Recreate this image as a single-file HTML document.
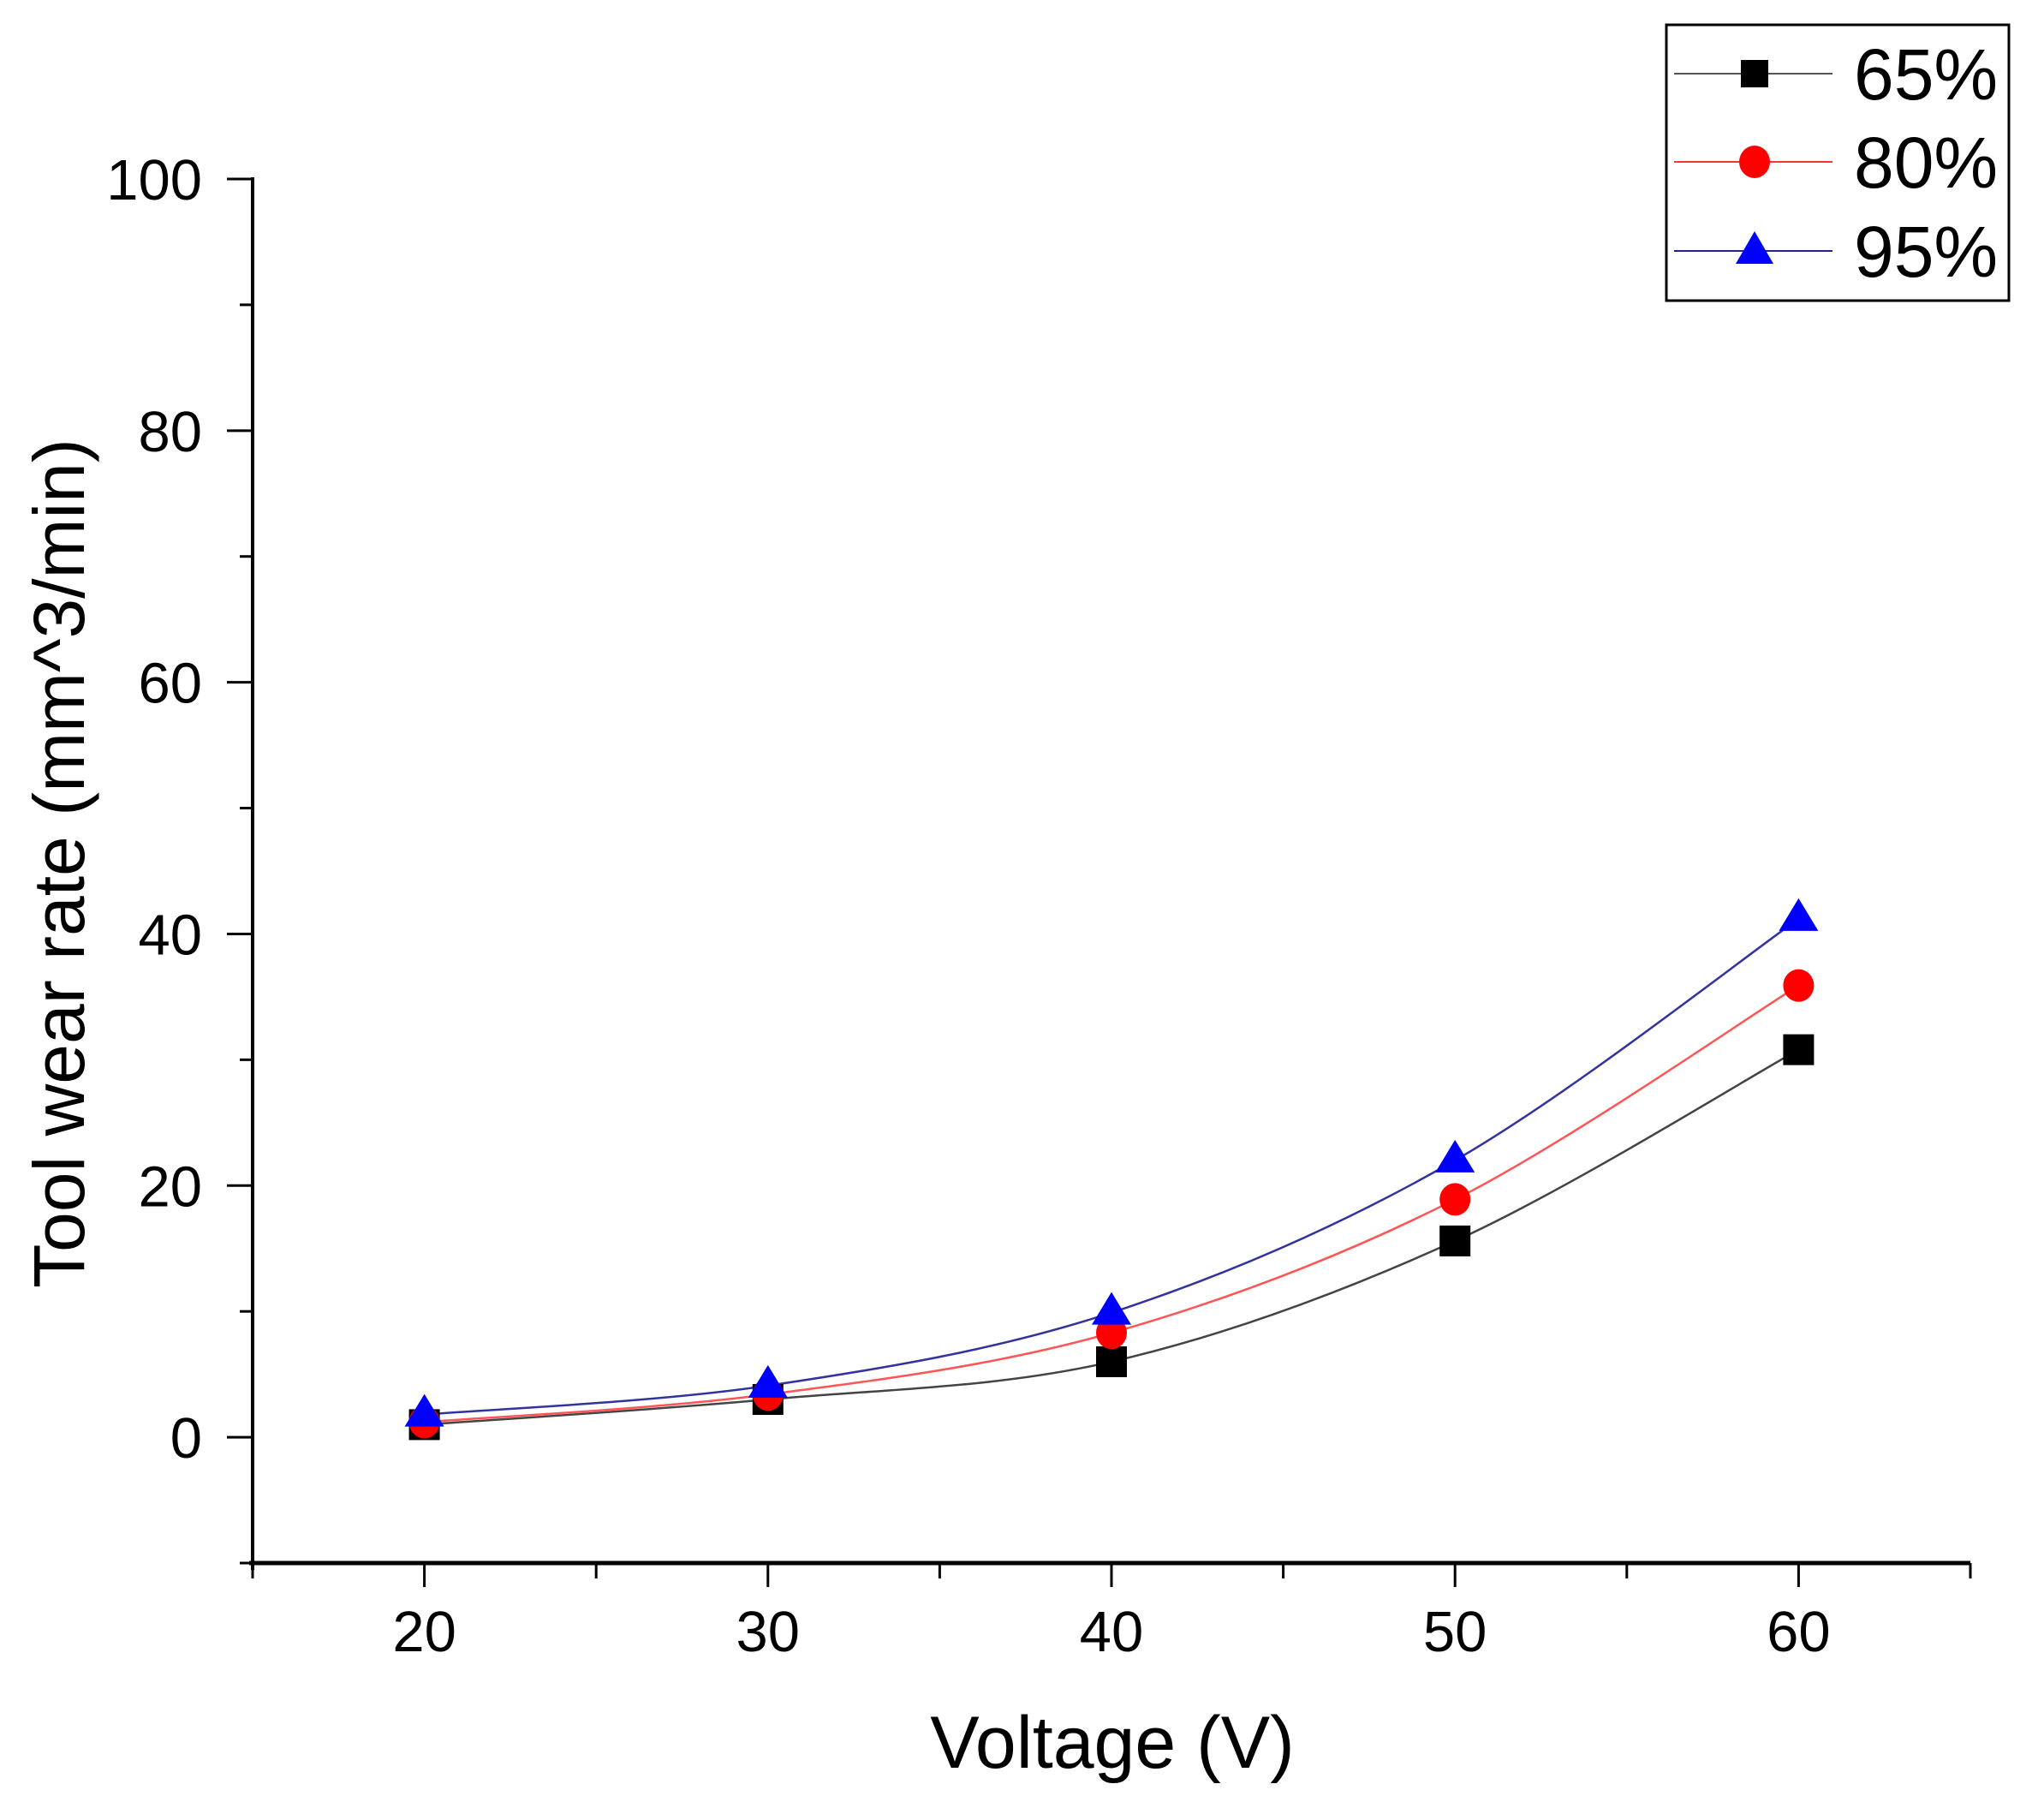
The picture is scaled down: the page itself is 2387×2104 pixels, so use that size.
<!DOCTYPE html>
<html><head><meta charset="utf-8"><style>
html,body{margin:0;padding:0;background:#fff}
svg{display:block}
text{font-family:"Liberation Sans",Arial,sans-serif;fill:#000}
</style></head><body>
<svg id="chart" width="2387" height="2104" viewBox="0 0 2387 2104">
<g id="axes"></g>
<g id="series"></g>
<text x="1299" y="2064" font-size="86" text-anchor="middle">Voltage (V)</text>
<text transform="translate(98,1008) rotate(-90)" font-size="84" text-anchor="middle">Tool wear rate (mm^3/min)</text>
<g>
<rect x="1946" y="29" width="400" height="322" fill="#fff" stroke="#000" stroke-width="3"/>
<g>
<line x1="1955" y1="86" x2="2140" y2="86" stroke="#555" stroke-width="2"/>
<rect x="2033" y="70" width="32" height="32" fill="#000"/>
<text x="2165" y="116" font-size="84">65%</text></g>
<g>
<line x1="1955" y1="189" x2="2140" y2="189" stroke="#f33" stroke-width="2"/>
<ellipse cx="2049" cy="189" rx="18" ry="19" fill="#f00"/>
<text x="2165" y="219" font-size="84">80%</text></g>
<g>
<line x1="1955" y1="293" x2="2140" y2="293" stroke="#22228a" stroke-width="2"/>
<polygon points="2049,270 2071,308 2027,308" fill="#00f"/>
<text x="2165" y="323" font-size="84">95%</text></g>
</g>
</svg>
<script>
const xCategories=[20,30,40,50,60];
const series65=[1.0,3.0,6.0,15.6,30.8];
const series80=[1.2,3.4,8.3,18.9,35.9];
const series95=[1.8,4.1,9.9,22.0,41.2];
const yTicks=[0,20,40,60,80,100];
const xTicks=[20,30,40,50,60];
const NS='http://www.w3.org/2000/svg';
const X0=295,X1=2301,XMIN=15,XMAX=65,YTOP=209,YBOT=1825,YMIN=-10,YMAX=100;
function sx(v){return X0+(v-XMIN)/(XMAX-XMIN)*(X1-X0);}
function sy(v){return YBOT-(v-YMIN)/(YMAX-YMIN)*(YBOT-YTOP);}
function mk(tag,attrs,parent){const e=document.createElementNS(NS,tag);for(const k in attrs)e.setAttribute(k,attrs[k]);parent.appendChild(e);return e;}
const axes=document.getElementById('axes');
const ya=mk('line',{x1:X0,y1:YTOP-2,x2:X0,y2:YBOT+8,stroke:'#000','stroke-width':4},axes);


const xa=mk('line',{x1:X0-4,y1:YBOT,x2:X1,y2:YBOT,stroke:'#000','stroke-width':5},axes);


for(let v=YMIN;v<=YMAX;v+=10){
  const major=yTicks.includes(v);
  mk('line',{x1:X0-(major?30:15),y1:sy(v),x2:X0,y2:sy(v),stroke:'#000','stroke-width':3},axes);
}
yTicks.forEach(v=>{
  const t=mk('text',{x:236,y:sy(v)+24,'font-size':67,'text-anchor':'end'},axes);
  t.textContent=v;
  
  
});
for(let v=XMIN;v<=XMAX;v+=5){
  const major=xTicks.includes(v);
  mk('line',{x1:sx(v),y1:YBOT,x2:sx(v),y2:YBOT+(major?28:18),stroke:'#000','stroke-width':3},axes);
}
xTicks.forEach(v=>{
  const t=mk('text',{x:sx(v),y:1928,'font-size':67,'text-anchor':'middle'},axes);
  t.textContent=v;
  
  
});
function pathFor(vals){
  const p=xCategories.map((x,i)=>[sx(x),sy(vals[i])]);
  let d='M'+p[0][0]+','+p[0][1];
  for(let i=0;i<p.length-1;i++){
    const p0=p[i-1]||p[i],p1=p[i],p2=p[i+1],p3=p[i+2]||p2;
    const c1=[p1[0]+(p2[0]-p0[0])/6,p1[1]+(p2[1]-p0[1])/6];
    const c2=[p2[0]-(p3[0]-p1[0])/6,p2[1]-(p3[1]-p1[1])/6];
    d+=' C'+c1+' '+c2+' '+p2;
  }
  return d;
}
const sg=document.getElementById('series');
const defs=[['65',series65,'#444','#000','square'],['80',series80,'#f55','#f00','circle'],['95',series95,'#3333a0','#00f','triangle']];
defs.forEach(([name,vals,lc,fc,shape])=>{
  const l=mk('path',{d:pathFor(vals),fill:'none',stroke:lc,'stroke-width':2.5},sg);
  
  
});
defs.forEach(([name,vals,lc,fc,shape])=>{
  xCategories.forEach((x,i)=>{
    const cx=sx(x),cy=sy(vals[i]);let m;
    if(shape==='square')m=mk('rect',{x:cx-18,y:cy-18,width:36,height:36,fill:fc},sg);
    else if(shape==='circle')m=mk('ellipse',{cx:cx,cy:cy,rx:18,ry:19,fill:fc},sg);
    else m=mk('polygon',{points:(cx)+','+(cy-24)+' '+(cx+23)+','+(cy+14)+' '+(cx-23)+','+(cy+14),fill:fc},sg);
    
    
  });
});
</script>
</body></html>
